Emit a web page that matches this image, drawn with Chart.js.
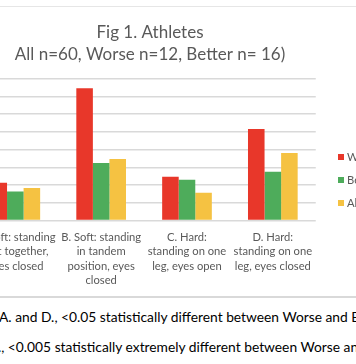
<!DOCTYPE html>
<html><head><meta charset="utf-8">
<script src="https://cdn.jsdelivr.net/npm/chart.js@4"></script>
<style>
html,body{margin:0;padding:0;background:#fff;width:356px;height:364px;overflow:hidden;position:relative}
#frame{position:absolute;left:-70px;top:6px;width:440px;height:289px;border-top:1px solid #e6e6e6;border-bottom:2px solid #d9d9d9;}
#wrap{position:absolute;left:-70px;top:7px;width:440px;height:296px}
#wrap canvas{display:block}
.leg{position:absolute;height:12px;line-height:12px;font-family:Lato;font-size:11.2px;color:#595959;white-space:nowrap;padding-left:9px}
.leg i{position:absolute;left:0;top:3px;width:6px;height:6px}
.note{position:absolute;height:18px;line-height:18px;font-family:Lato;font-size:13.8px;color:#000;white-space:nowrap}
</style></head>
<body>
<div id="frame"></div>
<div class="note" id="n1" style="left:-1px;top:308px"></div>
<div class="note" id="n2" style="left:-11px;top:338px"></div>
<div id="wrap"><canvas id="c"></canvas></div>
<div id="legend"></div>
<script>
const categories = [
  ["A. Soft: standing", "feet together,", "eyes closed"],
  ["B. Soft: standing", "in tandem", "position, eyes", "closed"],
  ["C. Hard:", "standing on one", "leg, eyes open"],
  ["D. Hard:", "standing on one", "leg, eyes closed"]
];
const seriesNames = ["Worse", "Better", "All"];
const worse  = [2.13, 7.47, 2.47, 5.17];
const better = [1.64, 3.24, 2.30, 2.75];
const all    = [1.83, 3.47, 1.56, 3.81];
const seriesColors = ["#E8372A", "#4EAC5B", "#F5C242"];
const titleLines = ["Fig 1. Athletes", "All n=60, Worse n=12, Better n= 16)"];
const yTicks = [0, 1, 2, 3, 4, 5, 6, 7, 8];
const notes = [
  "A. and D., <0.05 statistically different between Worse and Better",
  "B., <0.005 statistically extremely different between Worse and Better"
];

const values = [worse, better, all];
const datasets = seriesNames.map((n, i) => ({
  label: n, data: values[i], backgroundColor: seriesColors[i], borderWidth: 0,
  barPercentage: 1, categoryPercentage: 0.5787
}));

new Chart(document.getElementById('c'), {
  type: 'bar',
  data: { labels: categories, datasets },
  options: {
    responsive: true, maintainAspectRatio: false, animation: false,
    layout: { padding: { left: 0, right: 0, top: 0, bottom: 5.7 } },
    plugins: {
      legend: { display: false },
      tooltip: { enabled: false },
      title: { display: true, text: titleLines, color: '#595959',
        font: { family: 'Lato', size: 17, weight: 'normal', lineHeight: 1.318 },
        padding: { top: 14, bottom: 13 } }
    },
    scales: {
      x: { grid: { display: false, drawTicks: false }, border: { display: false },
        ticks: { color: '#595959', font: { family: 'Lato', size: 11.2, lineHeight: 1.27 },
          padding: 10, maxRotation: 0, autoSkip: false } },
      y: { min: yTicks[0], max: yTicks[yTicks.length - 1],
        ticks: { stepSize: 1, display: false },
        grid: { color: '#d9d9d9', lineWidth: 1.5, drawTicks: false },
        border: { display: false },
        afterFit: (s) => { s.width = 42.4; } },
      y2: { position: 'right', display: true, min: 0, max: 8,
        ticks: { display: false }, grid: { display: false, drawTicks: false },
        border: { display: false },
        afterFit: (s) => { s.width = 54.25; } }
    }
  }
});

const leg = document.getElementById('legend');
const legTops = [151, 174, 197];
seriesNames.forEach((n, i) => {
  const d = document.createElement('div');
  d.className = 'leg';
  d.style.left = '338px';
  d.style.top = legTops[i] + 'px';
  const b = document.createElement('i');
  b.style.background = seriesColors[i];
  d.appendChild(b);
  d.appendChild(document.createTextNode(n));
  leg.appendChild(d);
});
document.getElementById('n1').textContent = notes[0];
document.getElementById('n2').textContent = notes[1];
</script>
</body></html>
